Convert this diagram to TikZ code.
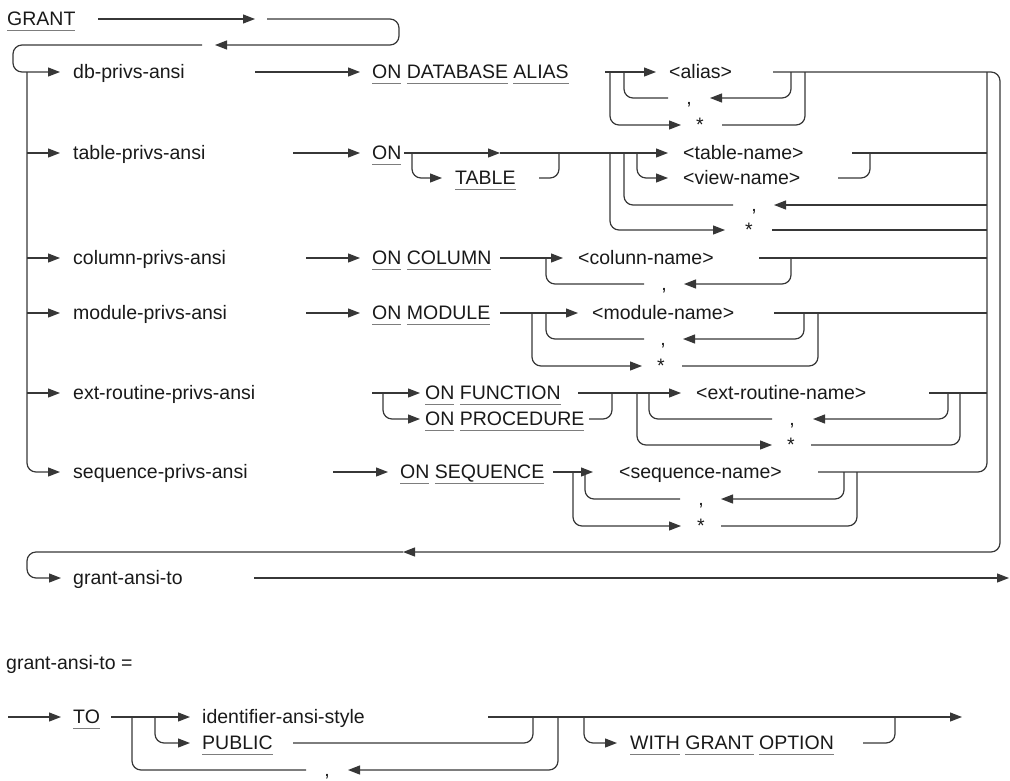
\documentclass[tikz,border=0pt]{standalone}
\usepackage{fontspec}
\setmainfont{Liberation Sans}
\usepackage{xcolor}
\usetikzlibrary{arrows.meta}
\definecolor{railc}{RGB}{55,55,55}
\definecolor{uline}{RGB}{125,125,125}
\newsavebox\kwbox
\newcommand\kword[1]{\sbox\kwbox{#1}\rlap{\color{uline}\rule[-6pt]{\wd\kwbox}{0.9pt}}\usebox\kwbox}

\begin{document}
\begin{tikzpicture}[x=1pt, y=-1pt,
  every node/.style={font=\fontsize{19.5}{22}\selectfont, text=black!90, inner sep=0pt},
  lbl/.style={anchor=base west, yshift=-6.3pt},
  sym/.style={anchor=base, yshift=-6.3pt},
  track/.style={draw=railc, line width=1.2pt, rounded corners=9pt},
  arr/.style={track, -{Triangle[length=12pt, width=9pt]}}]
  \useasboundingbox (0,0) rectangle (1010,780);

  \node[lbl] (grant) at (7,19) {\kword{GRANT}};
  \draw[arr] (98,19) -- (255,19);
  \draw[arr] (267,19) -- (399,19) -- (399,45) -- (215,45);
  \draw[arr] (202,45) -- (13,45) -- (13,72) -- (60,72);
  \draw[arr] (27,72) -- (27,472) -- (60,472);
  \foreach \y in {153,258,313,393}
    \draw[arr] (27,\y) -- (60,\y);

  \node[lbl] (db) at (73,72) {db-privs-ansi};
  \node[lbl] (tbl) at (73,153) {table-privs-ansi};
  \node[lbl] (col) at (73,258) {column-privs-ansi};
  \node[lbl] (mod) at (73,313) {module-privs-ansi};
  \node[lbl] (ext) at (73,393) {ext-routine-privs-ansi};
  \node[lbl] (seq) at (73,472) {sequence-privs-ansi};
  \node[lbl] (gato) at (73,578) {grant-ansi-to};

  \draw[arr] (255,72) -- (360,72);
  \node[lbl] (ondb) at (372,72) {\kword{ON} \kword{DATABASE} \kword{ALIAS}};
  \draw[arr] (605,72) -- (656,72);
  \node[lbl] (alias) at (669,72) {<alias>};
  \draw[arr] (773,72) -- (1000,72) -- (1000,552) -- (403,552);
  \draw[arr] (403,552) -- (27,552) -- (27,578) -- (61,578);
  \draw[arr] (254,578) -- (1009,578);
  \draw[arr] (791,72) -- (791,98) -- (710,98);
  \node[sym] (dcomma) at (689,98) {,};
  \draw[track] (668,98) -- (624,98) -- (624,72);
  \draw[arr] (610,72) -- (610,125) -- (681,125);
  \node[sym] (dstar) at (700,125) {*};
  \draw[track] (722,125) -- (805,125) -- (805,72);

  \draw[arr] (293,153) -- (360,153);
  \node[lbl] (ontb) at (372,153) {\kword{ON}};
  \draw[arr] (404,153) -- (500,153);
  \draw[arr] (500,153) -- (668,153);
  \draw[arr] (412,153) -- (412,178) -- (442,178);
  \node[lbl] (table) at (455,178) {\kword{TABLE}};
  \draw[track] (539,178) -- (559,178) -- (559,153);
  \node[lbl] (tname) at (683,153) {<table-name>};
  \node[lbl] (vname) at (683,178) {<view-name>};
  \draw[arr] (637,153) -- (637,178) -- (668,178);
  \draw[track] (852,153) -- (987,153);
  \draw[track] (838,178) -- (870,178) -- (870,153);
  \draw[arr] (987,205) -- (774,205);
  \node[sym] (tcomma) at (754,205) {,};
  \draw[track] (733,205) -- (624,205) -- (624,153);
  \draw[arr] (610,153) -- (610,230) -- (725,230);
  \node[sym] (tstar) at (749,230) {*};
  \draw[track] (772,230) -- (987,230);

  \draw[arr] (306,258) -- (360,258);
  \node[lbl] (oncol) at (372,258) {\kword{ON} \kword{COLUMN}};
  \draw[arr] (500,258) -- (563,258);
  \node[lbl] (cname) at (578,258) {<colunn-name>};
  \draw[track] (759,258) -- (987,258);
  \draw[arr] (791,258) -- (791,284) -- (684,284);
  \node[sym] (ccomma) at (664,284) {,};
  \draw[track] (644,284) -- (546,284) -- (546,258);

  \draw[arr] (306,313) -- (360,313);
  \node[lbl] (onmod) at (372,313) {\kword{ON} \kword{MODULE}};
  \draw[arr] (500,313) -- (578,313);
  \node[lbl] (mname) at (592,313) {<module-name>};
  \draw[track] (774,313) -- (987,313);
  \draw[arr] (804,313) -- (804,339) -- (683,339);
  \node[sym] (mcomma) at (663,339) {,};
  \draw[track] (644,339) -- (546,339) -- (546,313);
  \draw[arr] (532,313) -- (532,366) -- (642,366);
  \node[sym] (mstar) at (661,366) {*};
  \draw[track] (682,366) -- (818,366) -- (818,313);

  \draw[arr] (372,393) -- (420,393);
  \node[lbl] (onfn) at (425,393) {\kword{ON} \kword{FUNCTION}};
  \draw[arr] (383,393) -- (383,419) -- (420,419);
  \node[lbl] (onproc) at (425,419) {\kword{ON} \kword{PROCEDURE}};
  \draw[arr] (578,393) -- (681,393);
  \draw[track] (589,419) -- (612,419) -- (612,393);
  \node[lbl] (ename) at (696,393) {<ext-routine-name>};
  \draw[track] (929,393) -- (987,393);
  \draw[arr] (948,393) -- (948,419) -- (813,419);
  \node[sym] (ecomma) at (792,419) {,};
  \draw[track] (772,419) -- (649,419) -- (649,393);
  \draw[arr] (637,393) -- (637,445) -- (772,445);
  \node[sym] (estar) at (791,445) {*};
  \draw[track] (811,445) -- (960,445) -- (960,393);

  \draw[arr] (333,472) -- (388,472);
  \node[lbl] (onseq) at (400,472) {\kword{ON} \kword{SEQUENCE}};
  \draw[arr] (553,472) -- (593,472);
  \node[lbl] (sname) at (619,472) {<sequence-name>};
  \draw[track] (818,472) -- (987,472) -- (987,72);
  \draw[arr] (844,472) -- (844,499) -- (721,499);
  \node[sym] (scomma) at (701,499) {,};
  \draw[track] (680,499) -- (585,499) -- (585,472);
  \draw[arr] (573,472) -- (573,526) -- (681,526);
  \node[sym] (sstar) at (701,526) {*};
  \draw[track] (721,526) -- (857,526) -- (857,472);

  \node[lbl] (gdef) at (6,663) {grant-ansi-to =};
  \draw[arr] (8,717) -- (61,717);
  \node[lbl] (to) at (73,717) {\kword{TO}};
  \draw[arr] (111,717) -- (190,717);
  \node[lbl] (ident) at (202,717) {identifier-ansi-style};
  \draw[arr] (155,717) -- (155,743) -- (190,743);
  \node[lbl] (public) at (202,743) {\kword{PUBLIC}};
  \draw[track] (293,743) -- (533,743) -- (533,717);
  \draw[arr] (488,717) -- (962,717);
  \draw[arr] (558,717) -- (558,770) -- (348,770);
  \node[sym] (bcomma) at (327,770) {,};
  \draw[track] (306,770) -- (132,770) -- (132,717);
  \draw[arr] (584,717) -- (584,743) -- (617,743);
  \node[lbl] (wgo) at (630,743) {\kword{WITH} \kword{GRANT} \kword{OPTION}};
  \draw[track] (863,743) -- (895,743) -- (895,717);
\end{tikzpicture}
\end{document}
